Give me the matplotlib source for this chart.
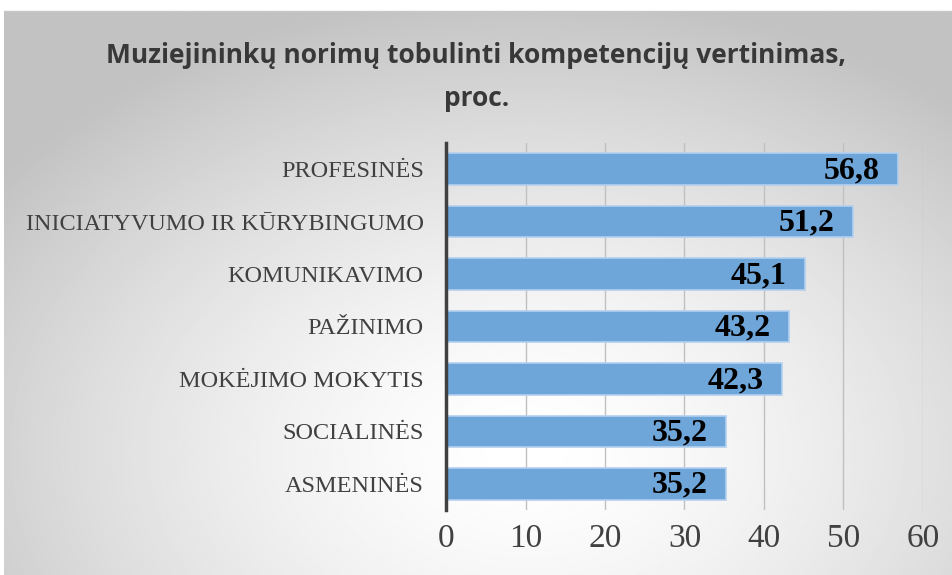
import numpy as np
import matplotlib.pyplot as plt

# duomenys
kategorijos = ['PROFESINĖS', 'INICIATYVUMO IR KŪRYBINGUMO', 'KOMUNIKAVIMO', 'PAŽINIMO',
               'MOKĖJIMO MOKYTIS', 'SOCIALINĖS', 'ASMENINĖS']
reiksmes = [56.8, 51.2, 45.1, 43.2, 42.3, 35.2, 35.2]
x_ticks = [0, 10, 20, 30, 40, 50, 60]
pavadinimas = 'Muziejininkų norimų tobulinti kompetencijų vertinimas,\nproc.'

fig = plt.figure(figsize=(9.53, 5.75), dpi=100)

# fonas su radialiniu gradientu
bg = fig.add_axes([4 / 953, 0, 1 - 4 / 953, 1 - 11 / 575], zorder=0)
yy, xx = np.mgrid[0:1:300j, 0:1:500j]
r = np.sqrt(((xx - 0.55) / 0.8) ** 2 + ((yy - 0.78) / 0.95) ** 2)
g = np.clip(1.0 - 0.30 * r ** 1.5, 0.76, 1.0)
bg.imshow(g, cmap='gray', vmin=0, vmax=1, aspect='auto', extent=[0, 1, 0, 1], origin='upper')
bg.axis('off')
fig.add_artist(plt.Line2D([4 / 953, 1], [1 - 11 / 575] * 2, color='#c8c8c8', lw=1))

ax = fig.add_axes([446 / 953, 1 - 510 / 575, 477 / 953, 367 / 575], zorder=1)
ax.patch.set_alpha(0)
y = np.arange(len(kategorijos))
ax.barh(y, reiksmes, height=0.6, color='#6fa6da', edgecolor='#b3d0ee', linewidth=1.2, zorder=3)
for yi, v in zip(y, reiksmes):
    ax.text(v - 2.3, yi + 0.03, f'{v:.1f}'.replace('.', ','), ha='right', va='center',
            family='Liberation Serif', fontweight='bold', fontsize=23, color='black', zorder=4)

ax.set_xlim(0, 60)
ax.set_ylim(len(kategorijos) - 0.5, -0.5)
ax.set_xticks(x_ticks)
ax.set_xticklabels([str(t) for t in x_ticks], family='Liberation Serif', fontsize=24, color='#404040')
ax.set_yticks(y)
ax.set_yticklabels(kategorijos, family='Liberation Serif', fontsize=17.5, color='#404040')
ax.tick_params(axis='both', length=0)
ax.tick_params(axis='x', pad=10)
ax.tick_params(axis='y', pad=16)
ax.xaxis.grid(True, color='#c0c0c0', lw=1, zorder=0)
ax.set_axisbelow(True)
for s in ['top', 'right', 'bottom']:
    ax.spines[s].set_visible(False)
ax.spines['left'].set_color('#404040')
ax.spines['left'].set_linewidth(2.5)
ax.spines['left'].set_zorder(5)

fig.text(0.5, 1 - 77 / 575, pavadinimas, ha='center', va='center', family='Open Sans',
         fontweight='bold', fontsize=19, color='#383838', linespacing=1.8)

fig.savefig('out.png', dpi=100)
